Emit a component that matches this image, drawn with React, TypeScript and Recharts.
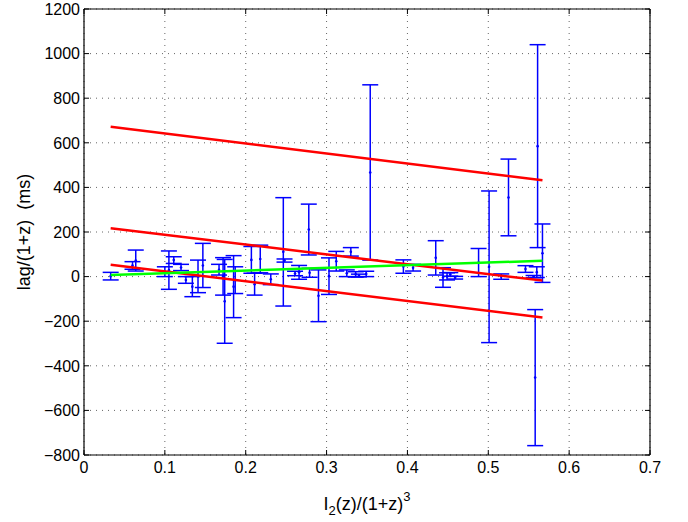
import React from 'react';
import { ScatterChart, Scatter, XAxis, YAxis, CartesianGrid, ErrorBar, ReferenceLine, Label } from 'recharts';

// measured points: x, lag and symmetric error
const pointX = [
  0.033, 0.060, 0.064, 0.100, 0.105, 0.111, 0.120, 0.126, 0.134, 0.141,
  0.147, 0.167, 0.172, 0.174, 0.185, 0.187, 0.207, 0.211, 0.218, 0.231,
  0.2465, 0.248, 0.261, 0.266, 0.278, 0.279, 0.290, 0.303, 0.312, 0.325,
  0.330, 0.336, 0.340, 0.349, 0.354, 0.395, 0.407, 0.435, 0.444, 0.449,
  0.453, 0.459, 0.488, 0.501, 0.516, 0.525, 0.546, 0.558, 0.560, 0.561,
  0.567, 0.556,
];
const pointY = [
  2, 50, 72, 22, 29, 74, 41, -15, -45, 1,
  50, 31, 1, -111, -45, -16, 75, -34, 79, -12,
  111, 72, 14, 19, 211, 17, -86, 2, 69, 15,
  111, 10, 5, 12, 467, 45, 40, 84, -4, 1,
  10, -5, 63, 44, 0, 355, 34, -453, 20, 585,
  105, 0,
];
const pointErr = [
  17, 17, 47, 22, 86, 15, 14, 15, 45, 73,
  99, 24, 84, 188, 139, 60, 60, 49, 62, 24,
  243, 7, 10, 31, 114, 20, 116, 82, 44, 15,
  19, 12, 6, 12, 393, 30, 15, 77, 44, 16,
  8, 6, 63, 340, 12, 172, 15, 305, 24, 455,
  131, 5,
];

// fitted lines (end points)
const fitX = [0.033, 0.567];
const upperFit = [672, 432];
const middleFit = [217, -18];
const lowerFit = [53, -183];
const greenFit = [7, 71];

const xTicks = [0, 0.1, 0.2, 0.3, 0.4, 0.5, 0.6, 0.7];
const yTicks = [-800, -600, -400, -200, 0, 200, 400, 600, 800, 1000, 1200];

const points = pointX.map((x, i) => ({ x, y: pointY[i], err: pointErr[i] }));
const fitLine = (vals: number[]) => fitX.map((x, i) => ({ x, y: vals[i] }));

const FONT = 'Liberation Sans, Arial, Helvetica, sans-serif';
const LEFT = 84;
const RIGHT = 650;
const TOP = 9;
const BOTTOM = 455;

const fmt = (v: number) => (v < 0 ? '\u2212' + Math.abs(v) : String(v));

const XTick = (props: any) => {
  const { x, payload } = props;
  return (
    <g>
      <line x1={x} x2={x} y1={BOTTOM} y2={BOTTOM - 5} stroke="#000" />
      <line x1={x} x2={x} y1={TOP} y2={TOP + 5} stroke="#000" />
      <text x={x} y={473} textAnchor="middle" fontSize={16} fontFamily={FONT} fill="#000">
        {fmt(payload.value)}
      </text>
    </g>
  );
};

const YTick = (props: any) => {
  const { y, payload } = props;
  return (
    <g>
      <line x1={LEFT} x2={LEFT + 5} y1={y} y2={y} stroke="#000" />
      <line x1={RIGHT - 5} x2={RIGHT} y1={y} y2={y} stroke="#000" />
      <text x={80} y={y} dy="0.36em" textAnchor="end" fontSize={16} fontFamily={FONT} fill="#000">
        {fmt(payload.value)}
      </text>
    </g>
  );
};

const noShape = () => <g />;
const dot = (p: any) => <circle cx={p.cx} cy={p.cy} r={1.3} fill="#0000ff" />;

export default function App() {
  return (
    <div style={{ position: 'absolute', left: 0, top: 0, background: '#fff' }}>
      <ScatterChart width={688} height={522} margin={{ top: TOP, right: 688 - RIGHT, left: 0, bottom: 0 }}>
        <CartesianGrid stroke="#666" strokeDasharray="1 5" />
        <XAxis
          type="number"
          dataKey="x"
          domain={[0, 0.7]}
          ticks={xTicks}
          tick={<XTick />}
          tickLine={false}
          height={522 - BOTTOM}
          axisLine={{ stroke: '#000', strokeWidth: 1.2 }}
          allowDataOverflow
        >
          <Label
            content={() => (
              <text x={(LEFT + RIGHT) / 2} y={510} textAnchor="middle" fontSize={18} fontFamily={FONT} fill="#000">
                <tspan>I</tspan>
                <tspan fontSize={13} dy={5}>2</tspan>
                <tspan dy={-5}>(z)/(1+z)</tspan>
                <tspan fontSize={13} dy={-9}>3</tspan>
              </text>
            )}
          />
        </XAxis>
        <YAxis
          type="number"
          dataKey="y"
          domain={[-800, 1200]}
          ticks={yTicks}
          tick={<YTick />}
          tickLine={false}
          width={LEFT}
          axisLine={{ stroke: '#000', strokeWidth: 1.2 }}
          allowDataOverflow
        >
          <Label
            content={() => (
              <text
                x={30}
                y={(TOP + BOTTOM) / 2}
                transform={`rotate(-90 30 ${(TOP + BOTTOM) / 2})`}
                textAnchor="middle"
                fontSize={18}
                fontFamily={FONT}
                fill="#000"
                style={{ whiteSpace: 'pre' }}
              >
                {'lag/(1+z)  (ms)'}
              </text>
            )}
          />
        </YAxis>
        <ReferenceLine y={1200} stroke="#000" strokeWidth={1.2} />
        <ReferenceLine x={0.7} stroke="#000" strokeWidth={1.2} />
        <Scatter data={points} shape={dot} isAnimationActive={false}>
          <ErrorBar dataKey="err" direction="y" width={8} stroke="#0000ff" strokeWidth={1.5} isAnimationActive={false} />
        </Scatter>
        <Scatter data={fitLine(upperFit)} line={{ stroke: '#ff0000', strokeWidth: 2.5 }} shape={noShape} isAnimationActive={false} />
        <Scatter data={fitLine(middleFit)} line={{ stroke: '#ff0000', strokeWidth: 2.5 }} shape={noShape} isAnimationActive={false} />
        <Scatter data={fitLine(lowerFit)} line={{ stroke: '#ff0000', strokeWidth: 2.5 }} shape={noShape} isAnimationActive={false} />
        <Scatter data={fitLine(greenFit)} line={{ stroke: '#00ff00', strokeWidth: 2.5 }} shape={noShape} isAnimationActive={false} />
      </ScatterChart>
    </div>
  );
}
